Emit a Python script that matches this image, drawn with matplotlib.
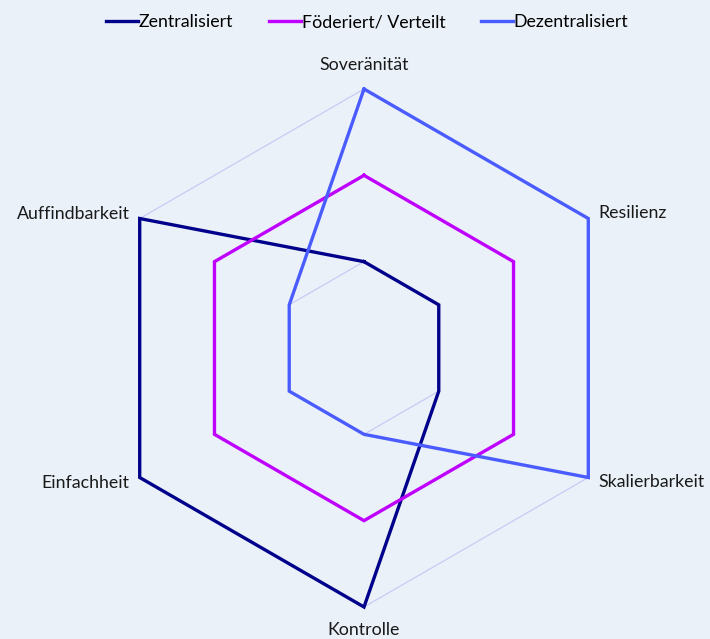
import numpy as np
import matplotlib
matplotlib.use("Agg")
import matplotlib.pyplot as plt
from matplotlib.lines import Line2D

categories = ["Soveränität", "Resilienz", "Skalierbarkeit", "Kontrolle", "Einfachheit", "Auffindbarkeit"]
zentral = [1, 1, 1, 3, 3, 3]
foederiert = [2, 2, 2, 2, 2, 2]
dezentral = [3, 3, 3, 1, 1, 1]
series_names = ["Zentralisiert", "Föderiert/ Verteilt", "Dezentralisiert"]
colors = ["#00008B", "#BF00FF", "#4A5CFF"]
grid_levels = [1, 2, 3]

plt.rcParams['font.family'] = ['Lato', 'DejaVu Sans']
bg = "#EAF1F8"
W, H = 710, 639
fig = plt.figure(figsize=(W/100, H/100), dpi=100, facecolor=bg)
cx, cy, R = 364, 348, 259
ax = fig.add_axes([(cx - R)/W, (H - cy - R)/H, 2*R/W, 2*R/H], projection='polar')
ax.set_facecolor(bg)
ax.patch.set_alpha(0)
ax.set_theta_offset(np.pi/2)
ax.set_theta_direction(-1)
ax.set_ylim(0, 3)
ax.grid(False)
ax.spines['polar'].set_visible(False)
ax.set_xticks([])
ax.set_yticks([])

n = len(categories)
angles = np.linspace(0, 2*np.pi, n, endpoint=False)
ang_c = np.append(angles, angles[0])

for lv in grid_levels:
    ax.plot(ang_c, [lv]*(n+1), color="#C8CCF5", lw=0.9, zorder=1, clip_on=False)

for vals, c in zip([zentral, foederiert, dezentral], colors):
    v = list(vals) + [vals[0]]
    ax.plot(ang_c, v, color=c, lw=2.4, zorder=3, clip_on=False, solid_joinstyle='miter')

offsets = [(0, 24, 'center', 'center'), (10, 5, 'left', 'center'), (10, -5, 'left', 'center'),
           (0, -23, 'center', 'center'), (-10, -5, 'right', 'center'), (-10, 5, 'right', 'center')]
for a, lab, (dx, dy, ha, va) in zip(angles, categories, offsets):
    ax.annotate(lab, xy=(a, 3), xytext=(dx, dy), textcoords='offset pixels',
                ha=ha, va=va, fontsize=12.8, color="#1a1a1a", annotation_clip=False)

handles = [Line2D([0], [0], color=c, lw=2.4) for c in colors]
fig.legend(handles, series_names, loc='upper center', bbox_to_anchor=(0.517, 1.003), ncol=3,
           frameon=False, fontsize=12.8, handlelength=1.8, handletextpad=0.05, columnspacing=2.0)

fig.savefig("out.png", dpi=100, facecolor=bg)
